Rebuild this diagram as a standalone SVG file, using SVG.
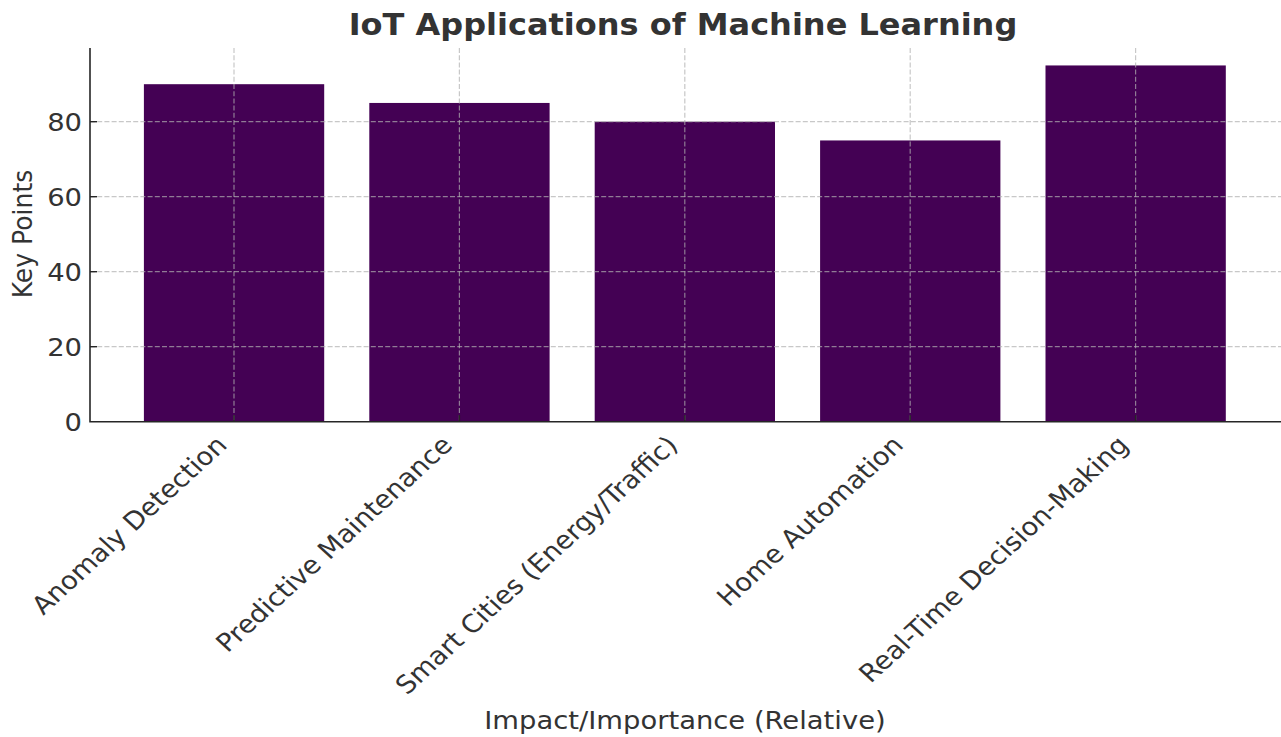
<svg xmlns="http://www.w3.org/2000/svg" width="1281" height="737" viewBox="0 0 1281 737">
<style>
text{font-family:"DejaVu Sans","Liberation Sans",sans-serif;fill:#333333}
.tick{font-size:27.4px}
.lab{font-size:27.4px}
.bar{fill:#440154}
.grid{stroke:#b0b0b0;stroke-opacity:0.7;stroke-width:1.2;stroke-dasharray:5 2.2;fill:none}
.spine{stroke:#262626;stroke-width:1.6;fill:none}
.tk{stroke:#262626;stroke-width:1.4}
</style>
<rect width="1281" height="737" fill="#ffffff"/>
<text transform="translate(683 35) scale(1 0.915)" text-anchor="middle" style="font-size:32px;font-weight:bold">IoT Applications of Machine Learning</text>
<g id="bars">
<g id="bar-anomaly"><rect class="bar" x="143.9" y="84.2" width="180.3" height="337.5"/></g>
<g id="bar-predictive"><rect class="bar" x="369.3" y="102.95" width="180.3" height="318.75"/></g>
<g id="bar-smart"><rect class="bar" x="594.7" y="121.7" width="180.3" height="300"/></g>
<g id="bar-home"><rect class="bar" x="820.1" y="140.45" width="180.3" height="281.25"/></g>
<g id="bar-realtime"><rect class="bar" x="1045.5" y="65.45" width="180.3" height="356.25"/></g>
</g>
<g id="grid">
<line class="grid" x1="90" y1="346.7" x2="1281" y2="346.7"/>
<line class="grid" x1="90" y1="271.7" x2="1281" y2="271.7"/>
<line class="grid" x1="90" y1="196.7" x2="1281" y2="196.7"/>
<line class="grid" x1="90" y1="121.7" x2="1281" y2="121.7"/>
<line class="grid" x1="234" y1="48" x2="234" y2="421.7"/>
<line class="grid" x1="459.4" y1="48" x2="459.4" y2="421.7"/>
<line class="grid" x1="684.8" y1="48" x2="684.8" y2="421.7"/>
<line class="grid" x1="910.2" y1="48" x2="910.2" y2="421.7"/>
<line class="grid" x1="1135.6" y1="48" x2="1135.6" y2="421.7"/>
</g>
<g id="axes">
<path class="spine" d="M90,48 V421.7 H1281"/>
<line class="tk" x1="90" y1="346.7" x2="97" y2="346.7"/>
<line class="tk" x1="90" y1="271.7" x2="97" y2="271.7"/>
<line class="tk" x1="90" y1="196.7" x2="97" y2="196.7"/>
<line class="tk" x1="90" y1="121.7" x2="97" y2="121.7"/>
<line class="tk" x1="234" y1="421.7" x2="234" y2="415"/>
<line class="tk" x1="459.4" y1="421.7" x2="459.4" y2="415"/>
<line class="tk" x1="684.8" y1="421.7" x2="684.8" y2="415"/>
<line class="tk" x1="910.2" y1="421.7" x2="910.2" y2="415"/>
<line class="tk" x1="1135.6" y1="421.7" x2="1135.6" y2="415"/>
<text class="tick" transform="translate(82 430.9) scale(1 0.915)" text-anchor="end">0</text>
<text class="tick" transform="translate(82 355.9) scale(1 0.915)" text-anchor="end">20</text>
<text class="tick" transform="translate(82 280.9) scale(1 0.915)" text-anchor="end">40</text>
<text class="tick" transform="translate(82 205.9) scale(1 0.915)" text-anchor="end">60</text>
<text class="tick" transform="translate(82 130.9) scale(1 0.915)" text-anchor="end">80</text>
<text class="tick" transform="translate(228.5 446.5) scale(1 0.915) rotate(-45)" text-anchor="end">Anomaly Detection</text>
<text class="tick" transform="translate(453.9 446.5) scale(1 0.915) rotate(-45)" text-anchor="end">Predictive Maintenance</text>
<text class="tick" transform="translate(679.3 446.5) scale(1 0.915) rotate(-45)" text-anchor="end">Smart Cities (Energy/Traffic)</text>
<text class="tick" transform="translate(904.7 446.5) scale(1 0.915) rotate(-45)" text-anchor="end">Home Automation</text>
<text class="tick" transform="translate(1130.1 446.5) scale(1 0.915) rotate(-45)" text-anchor="end">Real-Time Decision-Making</text>
<text class="lab" transform="translate(685 728.5) scale(1 0.915)" text-anchor="middle">Impact/Importance (Relative)</text>
<text class="lab" transform="translate(31.5 234) scale(1 0.915) rotate(-90)" text-anchor="middle">Key Points</text>
</g>
</svg>
